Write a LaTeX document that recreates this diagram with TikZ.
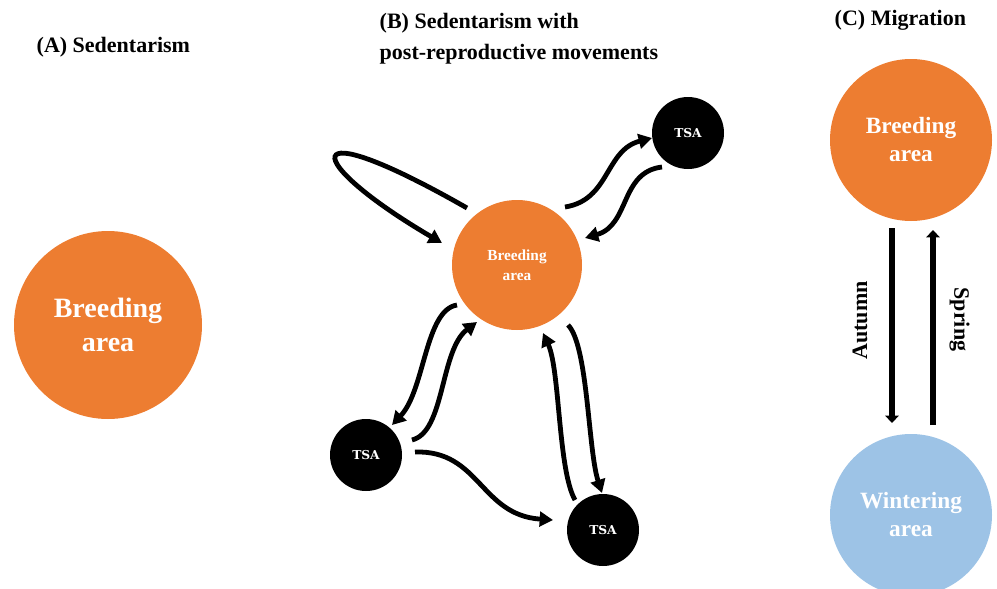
\documentclass[tikz,border=0pt]{standalone}
\usepackage{fontspec}
\setmainfont{Liberation Serif}
\newfontfamily\tsafont{DejaVu Serif}
\usetikzlibrary{arrows.meta}
\definecolor{breedorange}{HTML}{ED7D31}
\definecolor{winterblue}{HTML}{9DC3E6}
\tikzset{
  area/.style={circle, fill=#1, text=white, inner sep=0pt, align=center, font=\bfseries},
  tsa/.style={circle, fill=black, text=white, inner sep=0pt, minimum size=54pt,
              font=\tsafont\bfseries\fontsize{9.2}{10}\selectfont},
  move/.style={line width=3.6pt, -{Triangle[length=10pt, width=11pt]}},
  season/.style={line width=5pt, -{Triangle[length=5.5pt, width=10pt]}},
  heading/.style={anchor=west, align=left, font=\bfseries\fontsize{16.5}{23}\selectfont},
  seasonlabel/.style={midway, font=\bfseries\fontsize{16.5}{18}\selectfont},
}
\begin{document}
\begin{tikzpicture}[x=0.75pt, y=-0.75pt]
\useasboundingbox (0,0) rectangle (997,589);

% panel titles
\node[heading] (tA) at (32,47) {(A) Sedentarism};
\node[heading] (tB) at (375,39) {(B) Sedentarism with\\post-reproductive movements};
\node[heading] (tC) at (830,20) {(C) Migration};

% (A) sedentarism
\node[area=breedorange, minimum size=141pt, font=\bfseries\fontsize{21}{25.5}\selectfont] (bA) at (108,325) {Breeding\\area};

% (B) breeding area with temporary sites
\node[area=breedorange, minimum size=97.5pt, font=\bfseries\fontsize{11.5}{15}\selectfont] (bB) at (517,265) {Breeding\\area};
\node[tsa] (tT) at (688,133) {TSA};
\node[tsa] (tL) at (366,455) {TSA};
\node[tsa] (tR) at (603,530) {TSA};

% loop back into the breeding area
\draw[move] ([shift={(-50,-57)}]bB.center) .. controls +(-175,-100) and +(-140,-82) .. ([shift={(-75,-22)}]bB.center);
% breeding area <-> upper TSA
\draw[move] ([shift={(48,-58)}]bB.center) .. controls +(45,-7) and +(-47,12) .. ([shift={(-36,5)}]tT.center);
\draw[move] ([shift={(-26,34)}]tT.center) .. controls +(-42,5) and +(45,-13) .. ([shift={(68,-27)}]bB.center);
% breeding area <-> left TSA
\draw[move] ([shift={(-60,40)}]bB.center) .. controls +(-32,5) and +(33,-35) .. ([shift={(26,-30)}]tL.center);
\draw[move] ([shift={(46,-15)}]tL.center) .. controls +(33,-8) and +(-37,28) .. ([shift={(-40,57)}]bB.center);
% left TSA -> lower TSA
\draw[move] ([shift={(49,-3)}]tL.center) .. controls +(65,-2) and +(-73,-5) .. ([shift={(-50,-10)}]tR.center);
% breeding area <-> lower TSA
\draw[move] ([shift={(-28,-30)}]tR.center) .. controls +(-17,-30) and +(17,37) .. ([shift={(26,68)}]bB.center);
\draw[move] ([shift={(51,60)}]bB.center) .. controls +(20,20) and +(-14,-43) .. ([shift={(-1,-37)}]tR.center);

% (C) migration
\node[area=breedorange, minimum size=121.5pt, font=\bfseries\fontsize{17.5}{21}\selectfont] (bC) at (911,140) {Breeding\\area};
\node[area=winterblue, minimum size=121.5pt, font=\bfseries\fontsize{17.5}{21}\selectfont] (wC) at (911,515) {Wintering\\area};
\draw[season] ([shift={(-19,88)}]bC.center) -- node[seasonlabel, xshift=-24pt, yshift=3.75pt, rotate=90] {Autumn} ([shift={(-19,-92)}]wC.center);
\draw[season] ([shift={(22,-90)}]wC.center) -- node[seasonlabel, xshift=20pt, yshift=6pt, rotate=-90] {Spring} ([shift={(22,90)}]bC.center);
\end{tikzpicture}
\end{document}
